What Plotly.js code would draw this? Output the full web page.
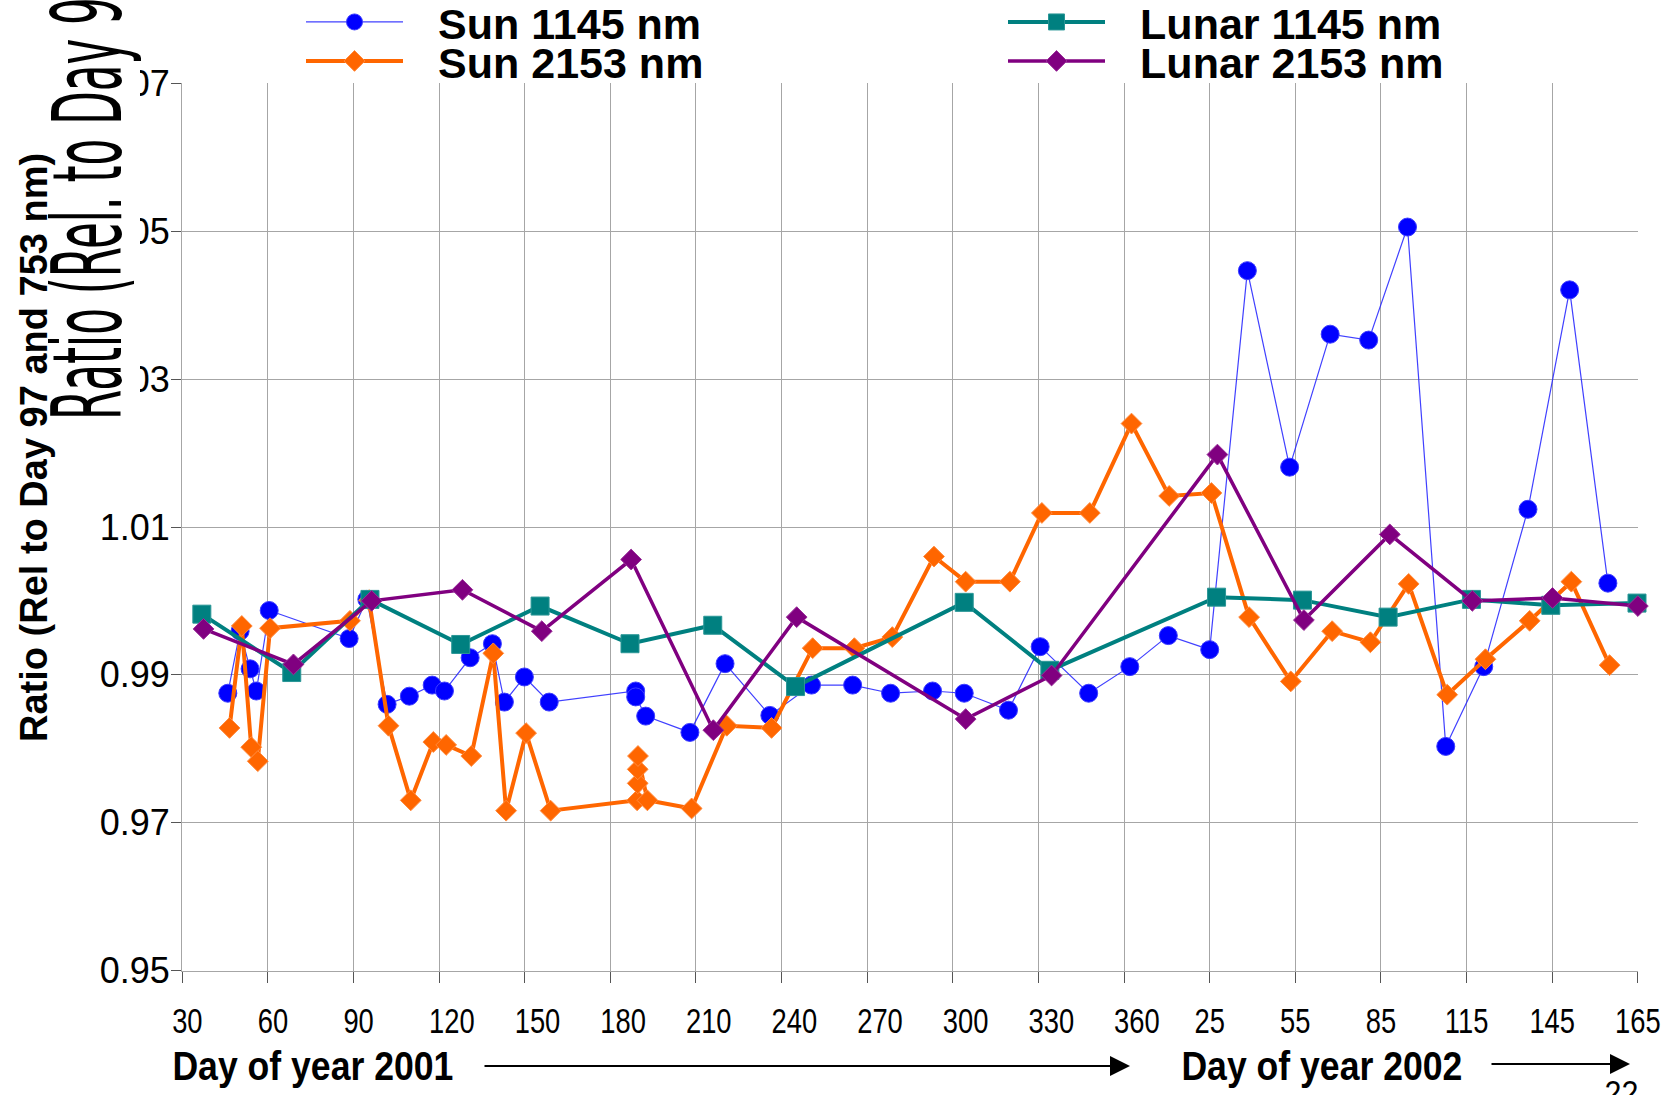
<!DOCTYPE html>
<html>
<head>
<meta charset="utf-8">
<script src="https://cdn.plot.ly/plotly-3.0.1.min.js"></script>
<style>
  html, body { margin: 0; padding: 0; background: #fff; }
  #chart { width: 1663px; height: 1095px; }
</style>
</head>
<body>
<div id="chart"></div>
<script>
// Day positions run on one continuous scale: 2001 day-of-year, then 2002 days follow on after day 365.
var sun1145Day = [46.0, 50.3, 53.8, 56.0, 60.5, 88.5, 94.7, 101.8, 109.6, 117.6, 121.9, 130.9, 138.7, 142.9, 149.9, 158.6,
  188.9, 188.9, 192.4, 207.9, 220.2, 235.9, 250.5, 264.9, 278.2, 292.9, 304.0, 319.5, 330.6, 347.6, 362.0,
  375.5, 390.0, 403.2, 418.0, 432.2, 445.7, 459.3, 472.7, 486.0, 501.5, 516.1, 529.5];
var sun1145Ratio = [0.9875, 0.9959, 0.9908, 0.9878, 0.9987, 0.9949, 1.0002, 0.9860, 0.9871, 0.9886, 0.9878, 0.9923, 0.9942, 0.9863, 0.9897, 0.9863,
  0.9878, 0.9870, 0.9844, 0.9822, 0.9915, 0.9845, 0.9886, 0.9886, 0.9875, 0.9878, 0.9875, 0.9852, 0.9938, 0.9875, 0.9911,
  0.9953, 0.9934, 1.0447, 1.0181, 1.0361, 1.0353, 1.0506, 0.9803, 0.9911, 1.0124, 1.0421, 1.0024];

var sun2153Day = [46.6, 50.9, 54.2, 56.5, 60.8, 88.8, 95.5, 102.3, 110.1, 118.0, 122.5, 131.3, 139.0, 143.5, 150.5, 159.1,
  189.4, 189.6, 189.6, 189.7, 193.0, 208.5, 220.8, 236.5, 250.9, 265.5, 278.8, 293.4, 304.5, 320.0, 331.2, 348.0, 362.6,
  375.8, 390.6, 403.8, 418.4, 432.9, 446.3, 459.7, 473.2, 486.6, 502.1, 516.7, 530.1];
var sun2153Ratio = [0.9828, 0.9966, 0.9802, 0.9783, 0.9963, 0.9973, 1.0001, 0.9831, 0.9730, 0.9809, 0.9805, 0.9790, 0.9929, 0.9716, 0.9821, 0.9716,
  0.9730, 0.9753, 0.9772, 0.9790, 0.9730, 0.9719, 0.9831, 0.9828, 0.9936, 0.9936, 0.9951, 1.0060, 1.0026, 1.0026, 1.0119, 1.0119, 1.0240,
  1.0142, 1.0146, 0.9978, 0.9891, 0.9959, 0.9944, 1.0023, 0.9873, 0.9921, 0.9973, 1.0026, 0.9913];

var lunar1145Day = [36.9, 68.4, 95.8, 127.6, 155.4, 186.9, 215.9, 244.9, 304.0, 334.0, 392.4, 422.5, 452.5, 481.7, 509.5, 539.7];
var lunar1145Ratio = [0.9982, 0.9903, 1.0002, 0.9941, 0.9993, 0.9942, 0.9967, 0.9884, 0.9998, 0.9906, 1.0005, 1.0001, 0.9978, 1.0002, 0.9994, 0.9997];

var lunar2153Day = [37.5, 69.0, 96.4, 128.2, 156.0, 187.3, 216.1, 245.3, 304.5, 334.6, 392.7, 423.0, 453.1, 482.0, 510.1, 540.0];
var lunar2153Ratio = [0.9962, 0.9914, 1.0000, 1.0015, 0.9959, 1.0056, 0.9825, 0.9978, 0.9840, 0.9899, 1.0198, 0.9974, 1.0090, 1.0000, 1.0004, 0.9993];

// Axis ticks: 2001 days, then 2002 days
var dayTickVals = [30, 60, 90, 120, 150, 180, 210, 240, 270, 300, 330, 360, 390, 420, 450, 480, 510, 540];
var dayTickText = ['30', '60', '90', '120', '150', '180', '210', '240', '270', '300', '330', '360', '25', '55', '85', '115', '145', '165'];
var ratioTickVals = [0.95, 0.97, 0.99, 1.01, 1.03, 1.05, 1.07];
var ratioTickText = ['0.95', '0.97', '0.99', '1.01', '1.03', '1.05', '1.07'];

var seriesNames = ['Sun 1145 nm', 'Sun 2153 nm', 'Lunar 1145 nm', 'Lunar 2153 nm'];

var SANS = 'Liberation Sans, Arial, sans-serif';
var NARROW = 'Liberation Sans Narrow, Arial Narrow, DejaVu Sans Condensed, sans-serif';
var GAP = '\u2002\u2009';   // room between legend symbol and its label

// plot frame in page pixels
var W = 1663, H = 1095, L = 182, R = 1638, T = 83, B = 971;
function px(X) { return (X - L) / (R - L); }
function py(Y) { return (B - Y) / (B - T); }

var traces = [
  { x: sun1145Day, y: sun1145Ratio, name: GAP + seriesNames[0], mode: 'lines+markers', legend: 'legend',
    line: { color: 'rgba(30,30,255,0.85)', width: 1.2 },
    marker: { symbol: 'circle', size: 18, color: '#0000ff', line: { color: '#3c3cff', width: 1 } },
    cliponaxis: false },
  { x: sun2153Day, y: sun2153Ratio, name: GAP + seriesNames[1], mode: 'lines+markers', legend: 'legend2',
    line: { color: '#ff6600', width: 4 },
    marker: { symbol: 'diamond', size: 16, color: '#ff6600', line: { color: '#ff8a3d', width: 1 } },
    cliponaxis: false },
  { x: lunar1145Day, y: lunar1145Ratio, name: GAP + seriesNames[2], mode: 'lines+markers', legend: 'legend3',
    line: { color: '#008080', width: 4 },
    marker: { symbol: 'square', size: 18, color: '#008080', line: { color: '#2a9696', width: 1 } },
    cliponaxis: false },
  { x: lunar2153Day, y: lunar2153Ratio, name: GAP + seriesNames[3], mode: 'lines+markers', legend: 'legend4',
    line: { color: '#800080', width: 3.5 },
    marker: { symbol: 'diamond', size: 16, color: '#800080', line: { color: '#9a309a', width: 1 } },
    cliponaxis: false }
];

function legendAt(X, Y) {
  return { x: px(X), y: py(Y), xanchor: 'left', yanchor: 'middle', orientation: 'v',
    bgcolor: 'rgba(0,0,0,0)', borderwidth: 0, itemwidth: 97, itemclick: false,
    font: { family: SANS, size: 43, color: '#000', weight: 'bold' } };
}

var layout = {
  width: W, height: H,
  margin: { l: L, r: W - R, t: T, b: H - B, pad: 0, autoexpand: false },
  paper_bgcolor: '#ffffff', plot_bgcolor: '#ffffff',
  showlegend: true,
  legend: legendAt(301, 22),
  legend2: legendAt(301, 61),
  legend3: legendAt(1003, 22),
  legend4: legendAt(1003, 61),
  xaxis: {
    range: [29.95, 540.05], tickmode: 'array', tickvals: dayTickVals, ticktext: dayTickText,
    showgrid: true, gridcolor: '#a6a6a6', gridwidth: 1, zeroline: false,
    showline: true, linecolor: '#a6a6a6', linewidth: 1,
    ticks: 'outside', ticklen: 11, tickwidth: 1, tickcolor: '#555',
    ticklabelstandoff: 7, ticklabeloverflow: 'allow',
    tickfont: { family: SANS, size: 36, color: '#000' }
  },
  yaxis: {
    range: [0.9499, 1.0701], tickmode: 'array', tickvals: ratioTickVals, ticktext: ratioTickText,
    showgrid: true, gridcolor: '#a6a6a6', gridwidth: 1, zeroline: false,
    showline: true, linecolor: '#a6a6a6', linewidth: 1,
    ticks: 'outside', ticklen: 10, tickwidth: 1, tickcolor: '#555',
    ticklabelstandoff: -6,
    tickfont: { family: SANS, size: 36, color: '#000' }
  },
  shapes: [
    // white box behind the oversized axis caption
    { type: 'rect', xref: 'paper', yref: 'paper', layer: 'above',
      x0: px(54), x1: px(140), y0: py(421), y1: py(-20),
      fillcolor: '#ffffff', line: { width: 0 } }
  ],
  annotations: [
    { // oversized condensed caption, index 0
      text: 'Ratio (Rel. to Day 97 and 753 nm)', xref: 'paper', yref: 'paper',
      x: px(88), y: py(421), xanchor: 'center', yanchor: 'bottom', textangle: -90,
      showarrow: false, borderpad: 0,
      font: { family: NARROW, size: 96, color: '#000' } },
    { text: 'Ratio (Rel to Day 97 and 753 nm)', xref: 'paper', yref: 'paper',
      x: px(34), y: py(448), xanchor: 'center', yanchor: 'middle', textangle: -90,
      showarrow: false, font: { family: SANS, size: 38, color: '#000', weight: 'bold' } },
    { text: 'Day of year 2001', xref: 'paper', yref: 'paper',
      x: px(313), y: py(1066), xanchor: 'center', yanchor: 'middle', showarrow: false,
      font: { family: SANS, size: 40, color: '#000', weight: 'bold' } },
    { text: '', xref: 'paper', yref: 'paper', x: px(1130), y: py(1066), ax: -647, ay: 0,
      showarrow: true, arrowhead: 2, arrowsize: 2, arrowwidth: 2, arrowcolor: '#000' },
    { text: 'Day of year 2002', xref: 'paper', yref: 'paper',
      x: px(1322), y: py(1066), xanchor: 'center', yanchor: 'middle', showarrow: false,
      font: { family: SANS, size: 40, color: '#000', weight: 'bold' } },
    { text: '', xref: 'paper', yref: 'paper', x: px(1630), y: py(1064), ax: -140, ay: 0,
      showarrow: true, arrowhead: 2, arrowsize: 2, arrowwidth: 2, arrowcolor: '#000' },
    { text: '22', xref: 'paper', yref: 'paper',
      x: px(1621), y: py(1092), xanchor: 'center', yanchor: 'middle', showarrow: false,
      font: { family: SANS, size: 35, color: '#000' } }
  ]
};

// narrow a text element along its own reading direction, around its start or its centre
function squeeze(el, sx, anchor) {
  var bb = el.getBBox();
  var ox = anchor === 'start' ? bb.x : bb.x + bb.width / 2;
  var prev = el.getAttribute('transform') || '';
  el.setAttribute('transform', prev + ' translate(' + ox + ',0) scale(' + sx + ',1) translate(' + (-ox) + ',0)');
}

Plotly.newPlot('chart', traces, layout, { staticPlot: true, displayModeBar: false }).then(function (gd) {
  // oversized caption: strongly condensed along its reading direction
  var big = gd.querySelector('g.annotation[data-index="0"] text.annotation-text');
  if (big) squeeze(big, 0.505, 'start');
  [2, 4].forEach(function (k) {
    var t = gd.querySelector('g.annotation[data-index="' + k + '"] text.annotation-text');
    if (t) squeeze(t, 0.89, 'center');
  });
  var t22 = gd.querySelector('g.annotation[data-index="6"] text.annotation-text');
  if (t22) squeeze(t22, 0.87, 'center');

  // day labels are set in a narrow face; the 2001 labels start just left of their tick
  var svgBox = gd.querySelector('svg.main-svg').getBoundingClientRect();
  var SQ = 0.76;
  gd.querySelectorAll('g.xtick').forEach(function (g) {
    var t = g.querySelector('text');
    if (!t) return;
    var i = dayTickText.indexOf(t.textContent);
    var r = t.getBoundingClientRect();
    var cx = r.left - svgBox.left + r.width / 2;
    var w = r.width * SQ;
    var nx = (i >= 0 && i < 12) ? (cx - 10 + w / 2) : cx;
    g.setAttribute('transform', 'translate(' + nx + ',0) scale(' + SQ + ',1) translate(' + (-cx) + ',0)');
  });
});
</script>
</body>
</html>
